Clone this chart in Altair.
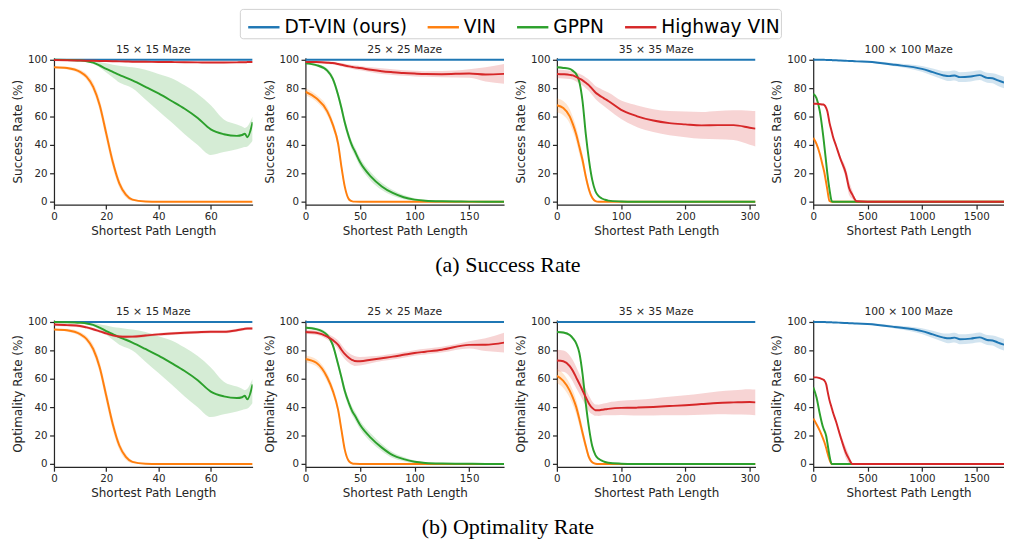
import altair as alt
import pandas as pd

SERIES = ["DT-VIN (ours)", "VIN", "GPPN", "Highway VIN"]
COLORS = ["#1f77b4", "#ff7f0e", "#2ca02c", "#d62728"]
TITLES = ["15 × 15 Maze", "25 × 25 Maze", "35 × 35 Maze", "100 × 100 Maze"]
Y_TICKS = [0, 20, 40, 60, 80, 100]

# ---------------- 15 x 15 ----------------
X15 = [0, 5, 10, 12.5, 15, 17.5, 20, 22.5, 25, 27.5, 30, 35, 40, 45, 50, 55, 60, 65, 70, 72, 73, 74, 76]
S15_DT = [100] * 23
S15_VIN = [94.8, 94.2, 91.5, 88, 81, 68, 48, 28, 13, 5, 1.5, 0.2, 0, 0, 0, 0, 0, 0, 0, 0, 0, 0, 0]
S15_VIN_E = [0.5, 1, 1.5, 2, 3, 4, 4.5, 4, 3, 2, 1, 0.3, 0, 0, 0, 0, 0, 0, 0, 0, 0, 0, 0]
S15_GPPN = [100, 99.9, 99.5, 99, 98, 96, 93.6, 91.5, 89.4, 87.5, 85.5, 81, 76.3, 71, 65.5, 59, 51, 47.6, 46.4, 47, 48, 45.5, 56]
S15_GPPN_HI = [100, 100, 99.8, 99.6, 99.3, 98.5, 97.5, 96.5, 95.9, 95.3, 94.7, 93, 90, 87, 82, 76, 68, 58, 54.5, 53, 52, 53, 60]
S15_GPPN_LO = [100, 99.8, 99.2, 98.4, 97, 94.5, 91, 87.5, 84, 82, 80, 72, 64, 56, 47.6, 40, 33, 35, 37, 38, 38.5, 39, 43]
S15_HW = [99.8, 99.7, 99.5, 99.4, 99.3, 99.2, 99.1, 99, 98.9, 98.8, 98.7, 98.6, 98.5, 98.4, 98.3, 98.2, 98.1, 98.1, 98.2, 98.3, 98.3, 98.4, 98.5]
S15_HW_E = [0.5] * 23
O15_HW = [98.2, 97.8, 97.2, 96.2, 94.9, 93.4, 92, 90.6, 89.8, 89.6, 89.7, 90.5, 91.3, 91.9, 92.4, 92.8, 93.1, 93.1, 94.2, 94.9, 95.2, 95.4, 95.5]
O15_HW_E = [1] * 23

# ---------------- 25 x 25 ----------------
X25 = [0, 10, 20, 25, 30, 33, 36, 40, 43, 45, 50, 60, 70, 80, 90, 100, 110, 125, 150, 165, 182]
S25_DT = [100] * 21
S25_VIN = [77.5, 72.9, 63.7, 54.5, 40.7, 24.6, 10.8, 1.6, 0.3, 0.1, 0, 0, 0, 0, 0, 0, 0, 0, 0, 0, 0]
S25_VIN_E = [2.5, 2.5, 3, 3, 3, 3, 2, 1, 0.3, 0, 0, 0, 0, 0, 0, 0, 0, 0, 0, 0, 0]
S25_GPPN = [97.5, 96.3, 92.4, 86.7, 75, 66, 56, 45.3, 39, 36, 28, 17.7, 10.8, 6.2, 3.2, 1.5, 0.7, 0.3, 0.1, 0, 0]
S25_GPPN_E = [0.8, 1, 1.5, 2, 2.5, 3, 3, 3, 3, 3, 3, 3, 2.5, 2, 1.5, 1, 0.5, 0.3, 0.1, 0, 0]
S25_HW = [98.5, 98.4, 98, 97.7, 97, 96.5, 96, 95.4, 95, 94.7, 94.2, 93, 92, 91.3, 90.7, 90.3, 90, 89.9, 90.4, 89.7, 90.1]
S25_HW_E = [0.8, 0.8, 1, 1, 1, 1.2, 1.2, 1.3, 1.4, 1.5, 1.5, 1.8, 2, 2, 2, 2, 2, 2.2, 3, 5, 7]
O25_VIN = [74, 71.3, 60.9, 51.7, 37.9, 24, 10.3, 1.8, 0.3, 0.1, 0, 0, 0, 0, 0, 0, 0, 0, 0, 0, 0]
O25_GPPN = [96, 95, 90.8, 83.9, 70, 61, 51.5, 42.5, 37, 34.5, 27.6, 18.4, 11.5, 6.2, 3.4, 1.5, 0.7, 0.3, 0.1, 0, 0]
O25_HW = [93, 92.4, 89.7, 87.3, 83.9, 80.5, 77.5, 74.7, 73.2, 72.6, 72.4, 73.4, 74.5, 75.6, 76.9, 78.2, 79.1, 80.5, 83.9, 84, 85.5]
O25_HW_E = [1.5, 1.5, 2, 2.5, 3, 3.5, 3.5, 3.5, 3.5, 3.5, 3, 2.5, 2, 2, 2, 2, 2, 2, 2.5, 4.5, 7]

# ---------------- 35 x 35 ----------------
X35 = [0, 10, 20, 25, 30, 35, 40, 45, 50, 55, 60, 65, 70, 75, 80, 100, 120, 125, 150, 175, 200, 225, 250, 275, 300, 309]
S35_DT = [100] * 26
S35_VIN = [68, 66, 60.2, 54.5, 47.6, 38.5, 29.2, 17.7, 8.5, 2.8, 0.5, 0, 0, 0, 0, 0, 0, 0, 0, 0, 0, 0, 0, 0, 0, 0]
S35_VIN_E = [5, 5, 5, 5, 5, 5, 4.5, 3.5, 2.5, 1, 0.3, 0, 0, 0, 0, 0, 0, 0, 0, 0, 0, 0, 0, 0, 0, 0]
S35_GPPN = [94.7, 94.3, 93.6, 92.2, 90, 84.4, 70.6, 47.6, 29.2, 15.4, 7.4, 4, 2.3, 1.4, 0.8, 0.2, 0, 0, 0, 0, 0, 0, 0, 0, 0, 0]
S35_GPPN_E = [0.8, 0.8, 0.8, 1, 1, 1.2, 1.5, 1.5, 1.5, 1.2, 0.8, 0.5, 0.3, 0.2, 0.1, 0, 0, 0, 0, 0, 0, 0, 0, 0, 0, 0]
S35_HW = [90, 89.8, 89.4, 89, 88, 86.8, 85.5, 83.8, 82, 79.5, 77, 75.3, 73.8, 72.4, 71, 64.8, 61, 60.2, 57.2, 55.4, 54.5, 53.8, 54, 54, 52.2, 51.5]
S35_HW_E = [3, 3, 3, 3, 3.2, 3.4, 3.6, 3.8, 4, 4.3, 4.6, 5, 5.3, 5.6, 6, 6.5, 7.5, 7.7, 8, 8.5, 9, 9.5, 10, 10.5, 12, 12.5]
O35_VIN = [62, 58.6, 51.7, 46.5, 40.2, 31.5, 21.8, 12.6, 4.6, 1.2, 0.2, 0, 0, 0, 0, 0, 0, 0, 0, 0, 0, 0, 0, 0, 0, 0]
O35_VIN_E = [5, 5, 5, 5, 5, 4.5, 4, 3, 2, 0.8, 0.2, 0, 0, 0, 0, 0, 0, 0, 0, 0, 0, 0, 0, 0, 0, 0]
O35_GPPN = [93, 92.6, 90.8, 88.5, 85, 78.2, 63.2, 42.5, 25.3, 12.6, 6.2, 3.6, 2.3, 1.4, 0.8, 0.2, 0, 0, 0, 0, 0, 0, 0, 0, 0, 0]
O35_HW = [72.9, 72.4, 69, 65.5, 61, 56.5, 51.7, 47, 42.5, 39.5, 37.9, 37.8, 38.2, 38.5, 38.8, 39.5, 39.6, 39.7, 40.2, 40.8, 41.4, 42.2, 43, 43.4, 43.7, 43.4]
O35_HW_E = [7.5, 7.5, 7.5, 7.5, 7.5, 7, 6.5, 6, 5.5, 4.5, 4, 4, 4, 4.2, 4.5, 5, 5.5, 5.5, 6, 6.5, 7, 7.5, 8, 8.5, 9, 9]

# ---------------- 100 x 100 ----------------
X100 = [0, 30, 60, 90, 100, 120, 130, 150, 170, 180, 210, 250, 300, 330, 360, 400, 500, 750, 1000, 1100, 1200, 1250, 1300, 1350, 1450, 1530, 1600, 1650, 1700, 1755]
S100_DT = [100, 100, 100, 100, 100, 99.9, 99.9, 99.8, 99.8, 99.7, 99.7, 99.5, 99.3, 99.2, 99.1, 98.9, 98.6, 96.5, 93.6, 91.3, 89, 88.5, 89, 87.8, 88.3, 89.2, 87.3, 87, 85.5, 84]
S100_DT_E = [0.2] * 16 + [0.5, 1, 2, 2.5, 3, 3.5, 3.5, 3.5, 3.5, 3.5, 3.5, 3.5, 4, 4]
S100_VIN = [45, 40.7, 33.8, 24.6, 21.5, 13, 8.5, 0.5, 0, 0, 0, 0, 0, 0, 0, 0, 0, 0, 0, 0, 0, 0, 0, 0, 0, 0, 0, 0, 0, 0]
S100_GPPN = [76, 73, 64, 47.6, 41, 27, 20, 8.5, 0.5, 0, 0, 0, 0, 0, 0, 0, 0, 0, 0, 0, 0, 0, 0, 0, 0, 0, 0, 0, 0, 0]
S100_HW = [69, 69, 68.8, 68.5, 68.3, 66, 63.7, 55.6, 49.5, 46.4, 39.5, 30.3, 20, 9.7, 5, 0.3, 0, 0, 0, 0, 0, 0, 0, 0, 0, 0, 0, 0, 0, 0]
S100_HW_E = [0.5] * 11 + [2, 4, 5, 3, 0.5] + [0] * 14
O100_VIN = [32, 28, 23.5, 18, 16, 11, 8, 3, 0, 0, 0, 0, 0, 0, 0, 0, 0, 0, 0, 0, 0, 0, 0, 0, 0, 0, 0, 0, 0, 0]
O100_GPPN = [54, 47, 35.6, 26, 24, 19.5, 15, 5.7, 0, 0, 0, 0, 0, 0, 0, 0, 0, 0, 0, 0, 0, 0, 0, 0, 0, 0, 0, 0, 0, 0]
O100_HW = [61, 61, 60.5, 59.5, 59, 56, 52, 44.8, 39.5, 36.8, 29.9, 19.5, 8, 3.4, 0, 0, 0, 0, 0, 0, 0, 0, 0, 0, 0, 0, 0, 0, 0, 0]
O100_HW_E = [0.5] * 11 + [2, 4, 3, 0.5, 0] + [0] * 14

X_MAX = [76, 182, 309, 1755]
X_TICKS = [[0, 20, 40, 60], [0, 50, 100, 150], [0, 100, 200, 300], [0, 500, 1000, 1500]]
WIDTHS = [203, 203, 203, 195]

FONT = "DejaVu Sans"
TXT = "#262626"


def series_frame(xs, mean, name, err=None, lo=None, hi=None):
    if lo is None:
        e = err if err is not None else [0] * len(mean)
        lo = [m - d for m, d in zip(mean, e)]
        hi = [m + d for m, d in zip(mean, e)]
    return pd.DataFrame({"x": xs, "y": mean, "lo": lo, "hi": hi, "series": name})


def panel(idx, xs, specs, ytitle):
    xscale = alt.Scale(domain=[0, X_MAX[idx]], nice=False, zero=False)
    yscale = alt.Scale(domain=[-2, 101.4], nice=False, zero=False)
    xaxis = alt.Axis(values=X_TICKS[idx], title="Shortest Path Length", format="d")
    yaxis = alt.Axis(values=Y_TICKS, title=ytitle)
    cscale = alt.Scale(domain=SERIES, range=COLORS)
    legend = alt.Legend(
        orient="none", legendX=190, legendY=-50, direction="horizontal",
        columns=4, title=None, symbolType="stroke", symbolOpacity=1,
    )
    areas, lines = [], []
    for name, spec in zip(SERIES, specs):
        df = series_frame(xs, name=name, **spec)
        base = alt.Chart(df)
        areas.append(
            base.mark_area(opacity=0.2, interpolate="monotone", clip=True).encode(
                x=alt.X("x:Q", scale=xscale, axis=xaxis),
                y=alt.Y("lo:Q", scale=yscale, axis=yaxis),
                y2="hi:Q",
                color=alt.Color("series:N", scale=cscale, legend=legend),
            )
        )
        lines.append(
            base.mark_line(strokeWidth=2, interpolate="monotone", clip=True).encode(
                x=alt.X("x:Q", scale=xscale, axis=xaxis),
                y=alt.Y("y:Q", scale=yscale, axis=yaxis),
                color=alt.Color("series:N", scale=cscale, legend=legend),
            )
        )
    return alt.layer(*areas, *lines).properties(
        width=WIDTHS[idx], height=150,
        title=alt.TitleParams(TITLES[idx], fontSize=11, font=FONT, fontWeight="normal",
                              color=TXT, offset=0, frame="group"),
    )


row1 = [
    panel(0, X15, [dict(mean=S15_DT), dict(mean=S15_VIN, err=S15_VIN_E),
                   dict(mean=S15_GPPN, lo=S15_GPPN_LO, hi=S15_GPPN_HI),
                   dict(mean=S15_HW, err=S15_HW_E)], "Success Rate (%)"),
    panel(1, X25, [dict(mean=S25_DT), dict(mean=S25_VIN, err=S25_VIN_E),
                   dict(mean=S25_GPPN, err=S25_GPPN_E), dict(mean=S25_HW, err=S25_HW_E)],
          "Success Rate (%)"),
    panel(2, X35, [dict(mean=S35_DT), dict(mean=S35_VIN, err=S35_VIN_E),
                   dict(mean=S35_GPPN, err=S35_GPPN_E), dict(mean=S35_HW, err=S35_HW_E)],
          "Success Rate (%)"),
    panel(3, X100, [dict(mean=S100_DT, err=S100_DT_E), dict(mean=S100_VIN),
                    dict(mean=S100_GPPN), dict(mean=S100_HW, err=S100_HW_E)],
          "Success Rate (%)"),
]
row2 = [
    panel(0, X15, [dict(mean=S15_DT), dict(mean=S15_VIN, err=S15_VIN_E),
                   dict(mean=S15_GPPN, lo=S15_GPPN_LO, hi=S15_GPPN_HI),
                   dict(mean=O15_HW, err=O15_HW_E)], "Optimality Rate (%)"),
    panel(1, X25, [dict(mean=S25_DT), dict(mean=O25_VIN, err=S25_VIN_E),
                   dict(mean=O25_GPPN, err=S25_GPPN_E), dict(mean=O25_HW, err=O25_HW_E)],
          "Optimality Rate (%)"),
    panel(2, X35, [dict(mean=S35_DT), dict(mean=O35_VIN, err=O35_VIN_E),
                   dict(mean=O35_GPPN, err=S35_GPPN_E), dict(mean=O35_HW, err=O35_HW_E)],
          "Optimality Rate (%)"),
    panel(3, X100, [dict(mean=S100_DT, err=S100_DT_E), dict(mean=O100_VIN),
                    dict(mean=O100_GPPN), dict(mean=O100_HW, err=O100_HW_E)],
          "Optimality Rate (%)"),
]


def caption(text):
    return alt.TitleParams(text, orient="bottom", anchor="middle", font="Liberation Serif",
                           fontSize=22.5, fontWeight="normal", color="black", offset=18)


top = alt.hconcat(*row1, spacing=10, title=caption("(a) Success Rate"))
bottom = alt.hconcat(*row2, spacing=10, title=caption("(b) Optimality Rate"))

chart = (
    alt.vconcat(top, bottom, spacing=30)
    .resolve_scale(color="shared")
    .resolve_legend(color="shared")
    .properties(padding={"left": 3, "top": -6, "right": 0, "bottom": 0})
    .configure_view(stroke=None)
    .configure_axis(
        grid=False, domainColor=TXT, domainWidth=1.25, tickColor=TXT, tickWidth=1.25,
        tickSize=4.5, labelFont=FONT, labelFontSize=10.5, labelColor=TXT, labelPadding=2.5,
        labelFlush=False, titleFont=FONT, titleFontSize=12.2, titleFontWeight="normal",
        titleColor=TXT, titlePadding=3,
    )
    .configure_legend(
        strokeColor="#d0d0d0", cornerRadius=3, padding=1, fillColor="white",
        labelFont=FONT, labelFontSize=19, labelColor="black", symbolStrokeWidth=2.5,
        symbolSize=1024, symbolOffset=6, labelOffset=3.5, columnPadding=13.4,
    )
)

chart.save("out.html", embed_options={"renderer": "svg", "actions": False})
